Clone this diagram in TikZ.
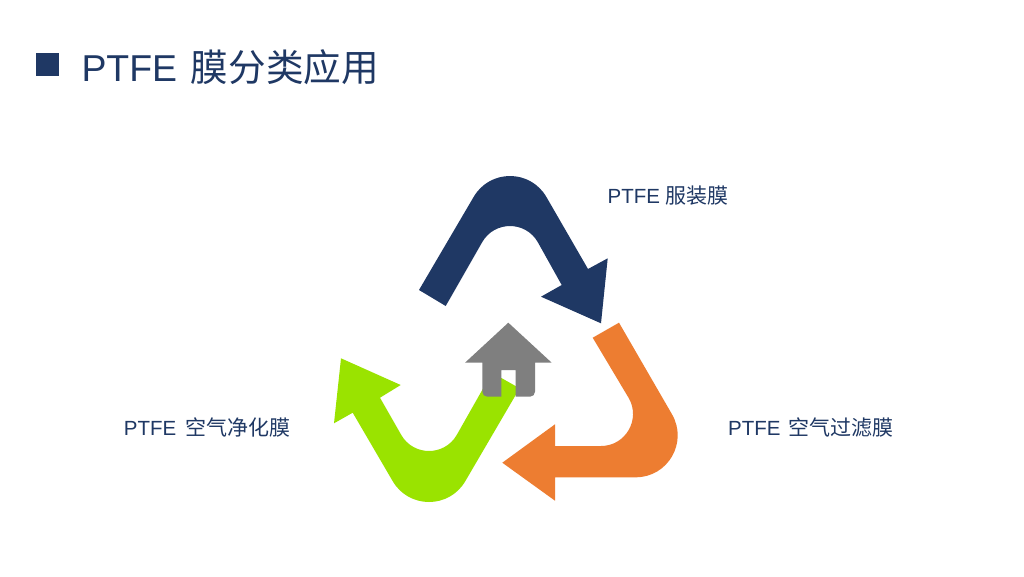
\documentclass[tikz,border=0pt]{standalone}
\usepackage{fontspec}
\setmainfont{Liberation Sans}
\newfontfamily\cjk{Noto Sans CJK SC}
\definecolor{navy}{HTML}{1F3864}
\definecolor{leaf}{HTML}{9AE300}
\definecolor{tangerine}{HTML}{ED7D31}
\definecolor{roof}{HTML}{7F7F7F}
\newcommand{\labelcjk}[2]{\hspace{#1}{\cjk\fontsize{21}{24}\selectfont #2}}
\newcommand{\titlecjk}[1]{\hspace{3.5pt}{\cjk\fontsize{37.6}{40}\selectfont #1}}
\tikzset{
  titletext/.style={anchor=base west,inner sep=0pt,text=navy,font=\fontsize{37.4}{40}\selectfont},
  labeltext/.style={anchor=base west,inner sep=0pt,text=navy,font=\fontsize{20.5}{24}\selectfont},
  shapefill/.style={fill=#1,draw=none}
}
\begin{document}
\begin{tikzpicture}[x=1pt,y=-1pt]
\useasboundingbox (0,0) rectangle (1024,576);
\fill[white] (0,0) rectangle (1024,576);
\fill[navy] (36,53.3) rectangle (58.7,75.7);
\node[titletext] (title) at (81.3,81) {PTFE \titlecjk{膜分类应用}};
% blue arrow
\path[shapefill=navy] (419,290) -- (473.6,197)
  .. controls (489.8,169) and (530.2,169) .. (546.4,197)
  -- (588,269) -- (607.7,258.3) -- (601,323.3) -- (541,296.7) -- (561.7,285) -- (537.7,242)
  .. controls (525.4,220.7) and (494.6,220.7) .. (482.3,242)
  -- (445.7,306) -- cycle;
% orange arrow
\path[shapefill=tangerine] (592.7,337.7) -- (619,322.7) -- (672,414.3)
  .. controls (688.2,442.3) and (668,477.3) .. (635.7,477.3)
  -- (555,477.3) -- (555,500.7) -- (502.3,462.7) -- (555,424.3) -- (555,446) -- (601,446)
  .. controls (625.6,446) and (641,419.3) .. (628.7,398) -- cycle;
% green arrow
\path[shapefill=leaf] (492,372.7) -- (519.6,388.3) -- (465.4,481)
  .. controls (449.2,509) and (408.8,509) .. (392.6,481)
  -- (352.7,412.7) -- (334,423.3) -- (341,358.3) -- (400.7,385) -- (380,397.7) -- (401.3,435)
  .. controls (413.6,456.3) and (444.4,456.3) .. (456.7,435) -- cycle;
% house
\path[shapefill=roof] (508.3,322.7) -- (551.7,362.7) -- (535,362.7) -- (535,391.7)
  .. controls (535,394.5) and (532.8,396.7) .. (530,396.7)
  -- (515.7,396.7) -- (515.7,370) -- (501.3,370) -- (501.3,396.7) -- (487.3,396.7)
  .. controls (484.5,396.7) and (482.3,394.5) .. (482.3,391.7)
  -- (482.3,362.7) -- (465,362.7) -- cycle;
\node[labeltext] (cloth) at (607.5,203.5) {PTFE \labelcjk{0pt}{服装膜}};
\node[labeltext] (filter) at (728,435.5) {PTFE \labelcjk{2.5pt}{空气过滤膜}};
\node[labeltext] (purify) at (123.7,435.5) {PTFE \labelcjk{3.1pt}{空气净化膜}};
\end{tikzpicture}
\end{document}
